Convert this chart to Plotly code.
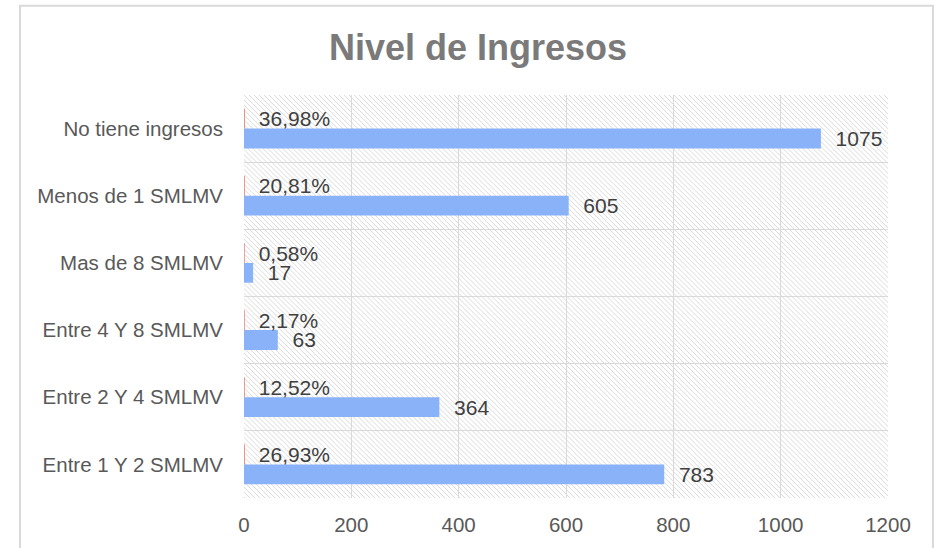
import base64
import plotly.graph_objects as go

# ---- data (bottom to top) ----
categories = ["Entre 1 Y 2 SMLMV", "Entre 2 Y 4 SMLMV", "Entre 4 Y 8 SMLMV",
              "Mas de 8 SMLMV", "Menos de 1 SMLMV", "No tiene ingresos"]
counts = [783, 364, 63, 17, 605, 1075]
percents = [0.2693, 0.1252, 0.0217, 0.0058, 0.2081, 0.3698]
x_ticks = [0, 200, 400, 600, 800, 1000, 1200]

BLUE = "#8ab2f8"
RED = "#e8837a"
LABEL = "#404040"
TICK = "#595959"
GRID = "#d9d9d9"
FONT = "Liberation Sans, Arial, sans-serif"

NB = "\u00a0"
count_text = [NB * 2 + str(v) for v in counts]
pct_text = [NB * 2 + f"{p * 100:.2f}%".replace(".", ",") for p in percents]

W, H = 939, 548
L, T = 244, 95
PW, PH = 644, 406

fig = go.Figure()
fig.add_trace(go.Bar(
    y=categories, x=counts, orientation="h", name="Cantidad",
    marker=dict(color=BLUE, line=dict(width=0)),
    text=count_text, textposition="outside", cliponaxis=False,
    constraintext="none",
    textfont=dict(color=LABEL, size=21, family=FONT),
))
fig.add_trace(go.Bar(
    y=categories, x=percents, orientation="h", name="Porcentaje",
    marker=dict(color=RED, line=dict(width=1, color=RED)),
    text=pct_text, textposition="outside", cliponaxis=False,
    constraintext="none",
    textfont=dict(color=LABEL, size=21, family=FONT),
))

# hatched plot-area background (decorative)
svg = (f'<svg xmlns="http://www.w3.org/2000/svg" width="{PW}" height="{PH}">'
       '<defs><pattern id="p" width="5" height="5" patternUnits="userSpaceOnUse">'
       '<path d="M-1,-1L6,6M4,-1L6,1M-1,4L1,6" stroke="#dadada" stroke-width="1"/>'
       f'</pattern></defs><rect width="{PW}" height="{PH}" fill="url(#p)"/></svg>')
src = "data:image/svg+xml;base64," + base64.b64encode(svg.encode()).decode()

fig.update_layout(
    width=W, height=H,
    margin=dict(l=L, r=W - L - PW, t=T, b=H - T - PH),
    paper_bgcolor="white", plot_bgcolor="white",
    showlegend=False,
    barmode="group", bargap=0.41, bargroupgap=0,
    title=dict(text="<b>Nivel de Ingresos</b>", x=0.509, xanchor="center",
               y=1 - 47 / H, yanchor="middle",
               font=dict(size=36, color="#7a7a7a", family=FONT)),
    font=dict(family=FONT),
    images=[dict(source=src, xref="x domain", yref="y domain", x=0, y=1,
                 sizex=1, sizey=1, xanchor="left", yanchor="top",
                 sizing="stretch", layer="below")],
    shapes=[dict(type="rect", xref="paper", yref="paper",
                 x0=(20 - L) / PW, x1=(933 - L) / PW,
                 y0=-0.3, y1=(T + PH - 5) / PH,
                 line=dict(color="#d9d9d9", width=2), fillcolor="rgba(0,0,0,0)",
                 layer="below")],
)
fig.update_xaxes(range=[0, 1200], tickvals=x_ticks, showgrid=True,
                 gridcolor=GRID, gridwidth=1, zeroline=False, showline=False,
                 ticks="", ticklabelstandoff=12,
                 tickfont=dict(size=20.5, color=TICK, family=FONT))
fig.update_yaxes(type="category", categoryorder="array", categoryarray=categories,
                 tickson="boundaries", showgrid=True, gridcolor=GRID, gridwidth=1,
                 showline=False, ticks="", ticklabelstandoff=20,
                 tickfont=dict(size=20.5, color=TICK, family=FONT))

fig.write_html("out.html",
               config={"displayModeBar": False},
               post_script="document.body.style.margin='0';"
                           "document.body.style.overflow='hidden';")
